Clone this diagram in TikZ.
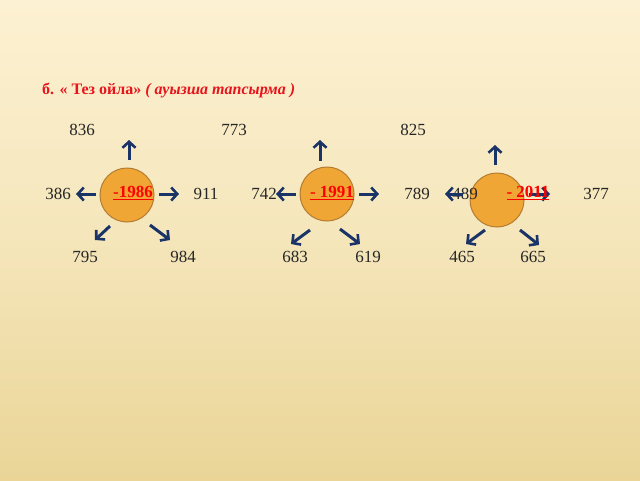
\documentclass[tikz,border=0pt]{standalone}
\usepackage{fontspec}
\setmainfont{Liberation Serif}
\usetikzlibrary{arrows.meta}
\definecolor{bgtop}{HTML}{FCF1D2}
\definecolor{bgbot}{HTML}{EAD597}
\definecolor{navy}{HTML}{1B3468}
\definecolor{sun}{HTML}{EFA635}
\definecolor{sunrim}{HTML}{B47C30}
\definecolor{titlered}{HTML}{E8141C}

\begin{document}
\begin{tikzpicture}[x=1pt, y=-1pt,
  num/.style={font=\fontsize{17}{17}\selectfont, text=black!85, inner sep=0pt},
  sunball/.style={circle, draw=sunrim, line width=1pt, fill=sun, minimum size=54pt, inner sep=0pt},
  year/.style={font=\fontsize{17}{17}\selectfont\bfseries, text=red, inner sep=0pt},
  ray/.style={navy, line width=3pt, -{Straight Barb[length=6pt, width=13pt, line width=2.6pt]}}]
% background
\fill[top color=bgtop, bottom color=bgbot, middle color=bgtop!60!bgbot] (0,0) rectangle (640,480);
\useasboundingbox (0,0) rectangle (640,480);
% title
\node[anchor=west, inner sep=0pt, text=titlered, font=\fontsize{16}{16}\selectfont\bfseries] (title) at (42,90)
  {б. « Тез ойла» \textit{( ауызша тапсырма )}};
% the three circles
\node[sunball] (c1) at (127,195) {};
\node[sunball] (c2) at (327,194) {};
\node[sunball] (c3) at (497,200) {};
\node[year] (y1) at (133,193) {\underline{-1986}};
\node[year] (y2) at (332,193) {\underline{- 1991}};
% numbers
\foreach \n/\x/\y in {836/82/130, 773/234/130, 825/413/130,
    386/58/194, 911/206/194, 742/264/194, 789/417/194, 489/465/194, 377/596/194,
    795/85/257, 984/183/257, 683/295/257, 619/368/257, 465/462/257, 665/533/257}
  \node[num] (n\n) at (\x,\y) {\n};
% arrows
\foreach \i/\ax/\ay/\bx/\by in {1/129/160/129/140, 2/96/194/76/194, 3/159/194/179/194,
    4/110/226/95/240, 5/150/225/170/240,
    6/320/161/320/140, 7/296/194/276/194, 8/359/194/379/194,
    9/310/230/291/244, 10/340/229/360/244,
    11/495/165/495/145, 12/463/194/445/194, 13/529/194/550/194,
    14/485/230/466/244, 15/520/230/539/245} {
  \coordinate (a\i) at (\ax,\ay);
  \coordinate (b\i) at (\bx,\by);
  \draw[ray] (a\i) -- (b\i);
}
\node[year] (y3) at (528,193) {\underline{- 2011}};
\end{tikzpicture}
\end{document}
